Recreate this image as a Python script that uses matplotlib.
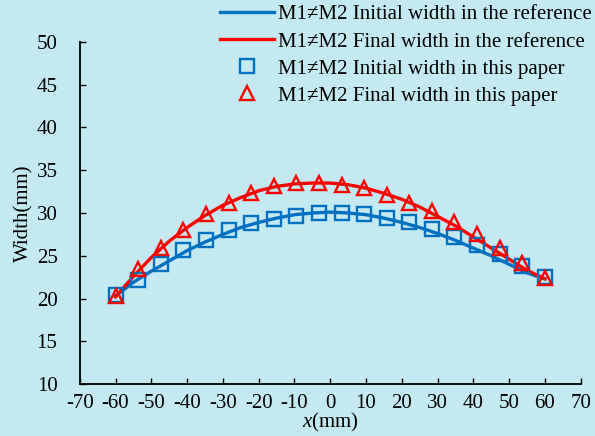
import numpy as np
import matplotlib
matplotlib.use("Agg")
import matplotlib.pyplot as plt

# ---------- Data ---------- #
# reference curves (read every 5 mm)
x_ref = [-60, -55, -50, -45, -40, -35, -30, -25, -20, -15, -10, -5, 0,
         5, 10, 15, 20, 25, 30, 35, 40, 45, 50, 55, 60]
init_ref = [20.3, 21.9, 23.2, 24.4, 25.6, 26.6, 27.5, 28.3, 28.9, 29.4, 29.8, 30.0, 30.1,
            30.0, 29.8, 29.4, 28.9, 28.3, 27.6, 26.8, 25.9, 25.0, 24.0, 23.0, 22.3]
final_ref = [20.2, 22.6, 24.8, 26.7, 28.3, 29.7, 30.9, 31.8, 32.6, 33.1, 33.4, 33.5, 33.5,
             33.3, 32.9, 32.3, 31.6, 30.7, 29.6, 28.5, 27.2, 25.9, 24.6, 23.3, 22.3]

# this paper (20 points)
x_paper = [-60.0, -53.7, -47.4, -41.1, -34.7, -28.4, -22.1, -15.8, -9.5, -3.2,
           3.2, 9.5, 15.8, 22.1, 28.4, 34.7, 41.1, 47.4, 53.7, 60.0]
init_paper = [20.4, 22.2, 24.0, 25.7, 26.9, 28.0, 28.8, 29.3, 29.7, 30.0,
              30.0, 29.85, 29.45, 28.9, 28.1, 27.2, 26.3, 25.2, 23.8, 22.5]
final_paper = [20.3, 23.4, 25.9, 28.0, 29.9, 31.2, 32.3, 33.1, 33.5, 33.5,
               33.3, 32.9, 32.1, 31.2, 30.2, 28.9, 27.5, 25.9, 24.1, 22.4]

labels = ["M1\u2260M2 Initial width in the reference",
          "M1\u2260M2 Final width in the reference",
          "M1\u2260M2 Initial width in this paper",
          "M1\u2260M2 Final width in this paper"]

# ---------- Plot ---------- #
plt.rcParams['font.family'] = ['Liberation Serif', 'DejaVu Serif']
plt.rcParams['font.size'] = 15
plt.rcParams['axes.unicode_minus'] = False
plt.rcParams['mathtext.fontset'] = 'custom'
plt.rcParams['mathtext.it'] = 'Liberation Serif:italic'
plt.rcParams['mathtext.rm'] = 'Liberation Serif'

bg = '#C4E9F0'
blue = '#0070C0'
red = '#FF0000'

fig = plt.figure(figsize=(5.95, 4.36), dpi=100, facecolor=bg)
ax = fig.add_axes([0.134, 0.119, 0.842, 0.785], facecolor=bg)

l1, = ax.plot(x_ref, init_ref, color=blue, lw=2.4, label=labels[0])
l2, = ax.plot(x_ref, final_ref, color=red, lw=2.4, label=labels[1])
l3, = ax.plot(x_paper, init_paper, ls='none', marker='s', ms=10, mfc='none',
              mec=blue, mew=1.7, label=labels[2])
l4, = ax.plot(x_paper, final_paper, ls='none', marker='^', ms=10.5, mfc='none',
              mec=red, mew=1.7, label=labels[3])

ax.set_xlim(-70, 70)
ax.set_ylim(10, 50)
ax.set_xticks(np.arange(-70, 71, 10))
ax.set_yticks(np.arange(10, 51, 5))
ax.tick_params(direction='in', length=4, width=1, colors='black')
ax.tick_params(axis='x', pad=7)
ax.tick_params(axis='y', pad=16)
for s in ['top', 'right']:
    ax.spines[s].set_visible(False)
for s in ['left', 'bottom']:
    ax.spines[s].set_linewidth(1.3)

ax.set_xlabel(r'$x$(mm)', labelpad=-1)
ax.set_ylabel('Width(mm)', labelpad=2)

fig.legend(handles=[l1, l2, l3, l4], loc='upper left', bbox_to_anchor=(0.355, 1.008),
           frameon=False, handlelength=2.6, handletextpad=0.2, labelspacing=0.36,
           borderaxespad=0)

plt.savefig('out.png', dpi=100, facecolor=bg)
